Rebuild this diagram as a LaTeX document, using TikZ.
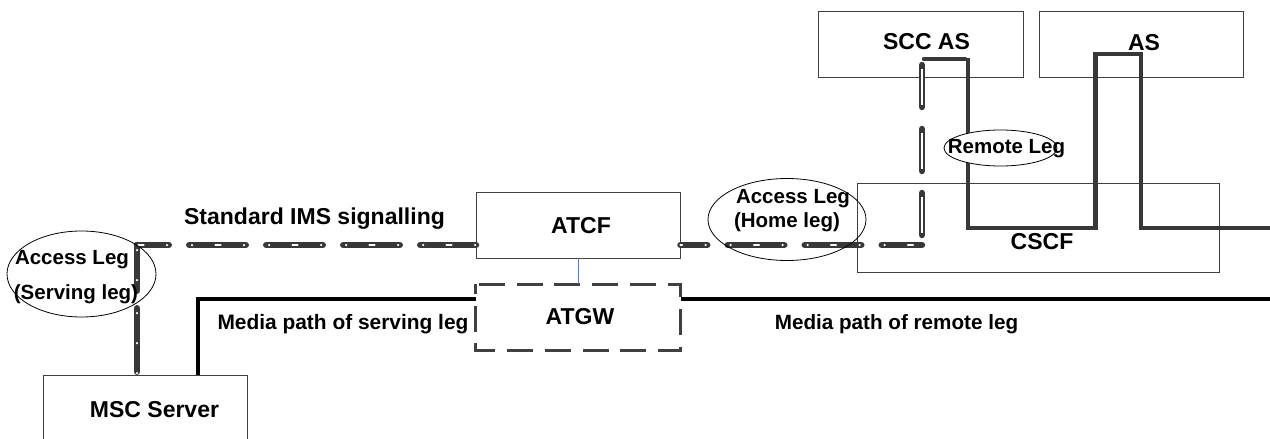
\documentclass[tikz,border=0pt]{standalone}
\usepackage{fontspec}
\setmainfont{Liberation Sans}
\usetikzlibrary{shapes.geometric,calc}
\definecolor{boxline}{HTML}{404040}
\definecolor{sigline}{HTML}{383838}
\definecolor{linkblue}{HTML}{4A7EBB}
\tikzset{
  boxnode/.style={draw=boxline,line width=1pt,fill=none,inner sep=0pt,outer sep=0pt,rectangle},
  ringnode/.style={draw=black,line width=0.8pt,ellipse,inner sep=0pt,outer sep=0pt},
  biglabel/.style={font=\bfseries\fontsize{23}{27}\selectfont,inner sep=0pt,anchor=center},
  leglabel/.style={font=\bfseries\fontsize{20.5}{24}\selectfont,inner sep=0pt,anchor=center},
  medialabel/.style={font=\bfseries\fontsize{#1}{24}\selectfont,inner sep=0pt,anchor=center},
  sigdark/.style={draw=sigline,line width=6.5pt,line cap=round},
  sigwhite/.style={draw=white,line width=2.5pt,line cap=round},
  hdark/.style={sigdark,dash pattern=on 56.5pt off 20.5pt,dash phase=#1},
  hwhite/.style={sigwhite,dash pattern=on 0pt off 23.5pt on 5pt off 23.5pt on 0pt off 25pt,dash phase=#1},
  trunk/.style={draw=sigline,line width=4.5pt,line join=miter},
  media/.style={draw=black,line width=3.6pt,line join=miter},
}
\begin{document}
\begin{tikzpicture}[x=1pt,y=-1pt]
\useasboundingbox (0,0) rectangle (1270,439);
% boxes
\node[boxnode,minimum width=204.5pt,minimum height=65.5pt] (scc) at (920.75,44.25) {};
\node[boxnode,minimum width=204.5pt,minimum height=65.5pt] (as) at (1141.25,44.25) {};
\node[boxnode,minimum width=362pt,minimum height=89pt] (cscf) at (1038.5,227.5) {};
\node[boxnode,minimum width=204.5pt,minimum height=65.5pt] (atcf) at (578.25,225.25) {};
\node[boxnode,minimum width=204pt,minimum height=66pt] (msc) at (145,408) {};
\node[inner sep=0pt,outer sep=0pt,minimum width=205pt,minimum height=66pt] (atgw) at (578.25,317) {};
\draw[draw=boxline,line width=3pt,dash pattern=on 26pt off 11.8pt,dash phase=34.8pt]
  (atgw.north west) -- (atgw.north east) -- (atgw.south east) -- (atgw.south west) -- cycle;
% helper coordinates
\coordinate (c1) at (137,245);
\coordinate (c2) at (922,245);
\coordinate (t1) at (968,58);
\coordinate (t2) at (968,228);
\coordinate (t3) at (1095.5,54);
\coordinate (t4) at (1141,54);
\coordinate (m1) at (198,299);
\coordinate (edge) at (1270,299);
\coordinate (sa) at (924,59);
\coordinate (sb) at (965,59);
% signalling: MSC up to the corner
\draw[sigdark,dash pattern=on 63.5pt off 17.5pt,dash phase=77.75pt] (msc.north -| c1) -- (c1);
\draw[sigwhite,dash pattern=on 0pt off 30pt on 0pt off 30pt on 0pt off 33pt,dash phase=91pt] (msc.north -| c1) -- (c1);
% signalling: corner to ATCF
\draw[hdark=24.75pt] (c1) -- (c1 -| atcf.west);
\draw[hwhite=22pt] (c1) -- (c1 -| atcf.west);
% signalling: ATCF to the corner inside CSCF
\draw[hdark=29.75pt] (c2 -| atcf.east) -- (c2);
\draw[hwhite=27pt] (c2 -| atcf.east) -- (c2);
% signalling: up to SCC AS
\draw[sigdark,dash pattern=on 42pt off 22pt,dash phase=54pt] (c2) -- (c2 |- sa);
\draw[draw=white,line width=2pt,dash pattern=on 36pt off 28pt,dash phase=52pt] (c2) -- (c2 |- sa);
% SCC AS top stroke
\draw[draw=sigline,line width=4.5pt,line cap=round] (sa) -- (sb);
% media path
\draw[media] (msc.north -| m1) -- (m1) -- (m1 -| atgw.west);
\draw[media] (m1 -| atgw.east) -- (edge);
% remote leg trunk
\draw[trunk] (t1) -- (t2) -- (t2 -| t3) -- (t3) -- (t4) -- (t4 |- t2) -- (t2 -| edge);
% ATCF to ATGW
\draw[draw=linkblue,line width=1pt] (atcf.south) -- (atgw.north);
% ellipses
\node[ringnode,minimum width=149pt,minimum height=86pt] (servingring) at (81.5,274) {};
\node[ringnode,minimum width=158pt,minimum height=82pt] (homering) at (787,219.5) {};
\node[ringnode,fill=white,minimum width=113pt,minimum height=36pt] (remotering) at (1000.5,148) {};
% labels
\node[biglabel] (sccl) at (926.5,42) {SCC AS};
\node[biglabel] (asl) at (1144,43) {AS};
\node[biglabel] (cscfl) at (1042,242) {CSCF};
\node[biglabel] (atcfl) at (581,226) {ATCF};
\node[biglabel] (atgwl) at (580,317) {ATGW};
\node[biglabel] (mscl) at (154.5,410) {MSC Server};
\node[biglabel] (stdl) at (314.5,219) {Standard IMS signalling};
\node[leglabel] (s1) at (72,260) {Access Leg};
\node[leglabel] (s2) at (76,294) {(Serving leg)};
\node[leglabel] (h1) at (793,199) {Access Leg};
\node[leglabel] (h2) at (787,222) {(Home leg)};
\node[leglabel] (r1) at (1006.5,149) {Remote Leg};
\node[medialabel=20.9] (mp1) at (343,324) {Media path of serving leg};
\node[medialabel=20.65] (mp2) at (896.5,324) {Media path of remote leg};
\end{tikzpicture}
\end{document}
